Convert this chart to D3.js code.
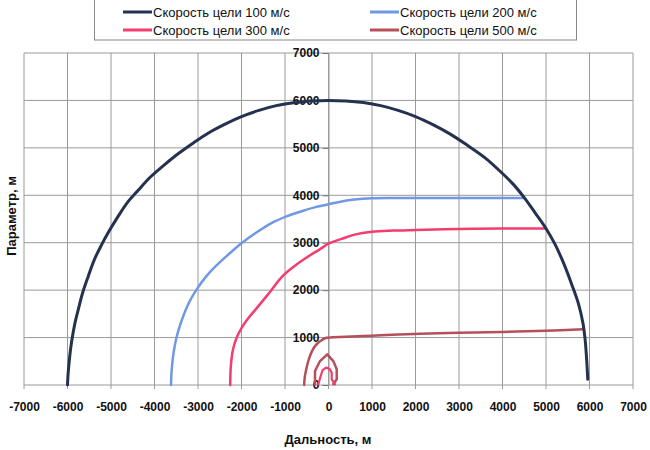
<!DOCTYPE html>
<html>
<head>
<meta charset="utf-8">
<script src="https://cdn.jsdelivr.net/npm/d3@7"></script>
<style>
  html, body { margin: 0; padding: 0; background: #fff; }
  svg { display: block; font-family: "Liberation Sans", Arial, sans-serif; }
</style>
</head>
<body>
<svg id="chart" width="650" height="450"></svg>
<script>
// ---- data ----
const xTicks = [-7000, -6000, -5000, -4000, -3000, -2000, -1000, 0, 1000, 2000, 3000, 4000, 5000, 6000, 7000];
const yTicks = [0, 1000, 2000, 3000, 4000, 5000, 6000, 7000];
const seriesNames = ["Скорость цели 100 м/с", "Скорость цели 200 м/с", "Скорость цели 300 м/с", "Скорость цели 500 м/с"];

const speed100 = [[-6000,0],[-5985,250],[-5960,500],[-5930,750],[-5890,1000],[-5830,1300],[-5750,1600],[-5650,1950],[-5520,2300],[-5380,2650],[-5220,2950],[-5040,3250],[-4840,3550],[-4620,3850],[-4380,4100],[-4100,4380],[-3800,4620],[-3450,4880],[-3100,5110],[-2750,5320],[-2400,5490],[-2000,5660],[-1600,5790],[-1200,5890],[-800,5950],[-400,5990],[0,6000],[400,5990],[800,5955],[1200,5890],[1600,5790],[2000,5660],[2400,5490],[2800,5290],[3200,5050],[3600,4790],[4000,4460],[4250,4230],[4500,3950],[4750,3630],[5000,3300],[5200,2980],[5400,2580],[5600,2100],[5750,1700],[5850,1300],[5900,950],[5930,600],[5950,300],[5960,120]];
const speed200 = [[-3620,0],[-3610,250],[-3580,550],[-3530,850],[-3450,1150],[-3340,1450],[-3200,1750],[-3030,2015],[-2830,2270],[-2600,2500],[-2330,2730],[-2000,2990],[-1650,3220],[-1300,3420],[-950,3560],[-600,3670],[-300,3750],[0,3810],[300,3870],[600,3910],[1000,3935],[1500,3942],[2500,3945],[3500,3945],[4500,3945]];
const speed300 = [[-2260,0],[-2245,400],[-2195,750],[-2110,1000],[-2000,1200],[-1850,1400],[-1650,1620],[-1400,1900],[-1050,2300],[-750,2530],[-450,2720],[-200,2860],[0,2980],[300,3080],[600,3170],[1000,3230],[1500,3255],[2000,3270],[3000,3290],[4000,3300],[5000,3300]];
const speed300Loop = [[-234,15],[-180,190],[-134,315],[-57,366],[18,345],[74,260],[74,120],[150,15]];
const speed500 = [[-560,0],[-545,170],[-511,330],[-470,490],[-410,650],[-340,780],[-250,880],[-150,950],[-50,995],[100,1005],[400,1019],[1000,1040],[1600,1065],[2100,1082],[3000,1100],[4000,1120],[5000,1145],[5850,1173]];
const speed500Loop = [[-310,15],[-310,295],[-195,505],[-28,646],[110,505],[189,330],[189,120],[110,15]];

const colors = ["#243250", "#7098e4", "#f23d6e", "#b5505a"];

// ---- layout ----
const svg = d3.select("#chart");
const x = d3.scaleLinear().domain([-7000, 7000]).range([24, 633]);
const y = d3.scaleLinear().domain([0, 7000]).range([385, 53]);
const gridColor = "#9a9a9a";

// grid
const g = svg.append("g");
g.selectAll(".vg").data(xTicks).join("line")
  .attr("x1", d => x(d)).attr("x2", d => x(d))
  .attr("y1", y(7000)).attr("y2", y(0) + 4)
  .attr("stroke", gridColor).attr("stroke-width", 1);
g.selectAll(".hg").data(yTicks).join("line")
  .attr("x1", x(-7000)).attr("x2", x(7000))
  .attr("y1", d => y(d)).attr("y2", d => y(d))
  .attr("stroke", gridColor).attr("stroke-width", 1);

// y axis at x = 0
const yAxis = d3.axisLeft(y).tickValues(yTicks).tickSize(6).tickPadding(3).tickFormat(d => String(d));
const ya = svg.append("g").attr("transform", `translate(${x(0)},0)`).call(yAxis);
ya.select(".domain").attr("stroke", gridColor);
ya.selectAll(".tick line").attr("stroke", "#777");
ya.selectAll("text").attr("font-size", 12).attr("font-weight", "bold").attr("fill", "#111")
  .attr("font-family", "Liberation Sans, Arial, sans-serif");

// x axis labels
const xAxis = d3.axisBottom(x).tickValues(xTicks).tickSize(0).tickPadding(17).tickFormat(d => String(d));
const xa = svg.append("g").attr("transform", `translate(0,${y(0)})`).call(xAxis);
xa.select(".domain").remove();
xa.selectAll("text").attr("font-size", 12).attr("font-weight", "bold").attr("fill", "#111")
  .attr("font-family", "Liberation Sans, Arial, sans-serif");

// lines
const lineSmooth = d3.line().x(d => x(d[0])).y(d => y(d[1])).curve(d3.curveCatmullRom.alpha(0.5));
const lineStraight = d3.line().x(d => x(d[0])).y(d => y(d[1]));
const drawn = [
  { data: speed500Loop, c: 3, w: 2.5, gen: lineStraight },
  { data: speed300Loop, c: 2, w: 2.2, gen: lineStraight },
  { data: speed500, c: 3, w: 2.5, gen: lineSmooth },
  { data: speed300, c: 2, w: 2.5, gen: lineSmooth },
  { data: speed200, c: 1, w: 2.5, gen: lineSmooth },
  { data: speed100, c: 0, w: 3, gen: lineSmooth }
];
svg.append("g").selectAll("path").data(drawn).join("path")
  .attr("d", d => d.gen(d.data))
  .attr("fill", "none")
  .attr("stroke", d => colors[d.c])
  .attr("stroke-width", d => d.w)
  .attr("stroke-linejoin", "round")
  .attr("stroke-linecap", "round");

// axis titles
svg.append("text").attr("x", 328).attr("y", 444).attr("text-anchor", "middle")
  .attr("font-size", 13).attr("font-weight", "bold").attr("fill", "#111").text("Дальность, м");
svg.append("text").attr("transform", "translate(16,216) rotate(-90)").attr("text-anchor", "middle")
  .attr("font-size", 13).attr("font-weight", "bold").attr("fill", "#111").text("Параметр, м");

// legend
const lg = svg.append("g");
lg.append("rect").attr("x", 94.5).attr("y", -1).attr("width", 482).attr("height", 41)
  .attr("fill", "#fff").attr("stroke", "#888").attr("stroke-width", 1);
const legPos = [[123, 12], [370, 12], [123, 30], [370, 30]];
const items = lg.selectAll(".it").data(seriesNames).join("g")
  .attr("transform", (d, i) => `translate(${legPos[i][0]},${legPos[i][1]})`);
items.append("line").attr("x1", 0).attr("x2", 29).attr("y1", 0).attr("y2", 0)
  .attr("stroke", (d, i) => colors[i]).attr("stroke-width", 3);
items.append("text").attr("x", 30).attr("y", 4.5).attr("font-size", 13).attr("fill", "#111").text(d => d);
</script>
</body>
</html>
